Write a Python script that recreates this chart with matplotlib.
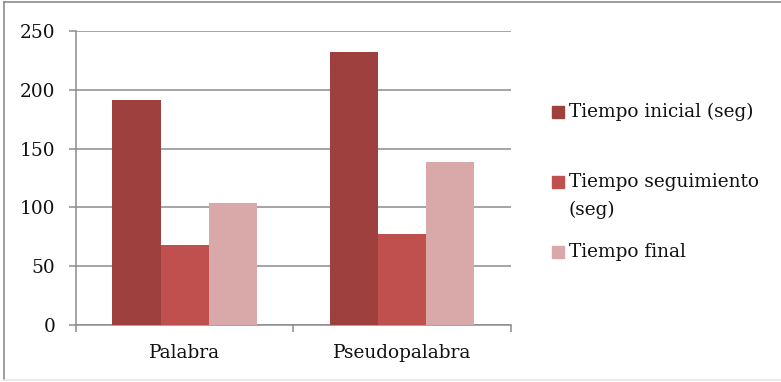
import matplotlib.pyplot as plt
from matplotlib.patches import Rectangle
from matplotlib.lines import Line2D
import numpy as np

categories = ["Palabra", "Pseudopalabra"]
series_names = ["Tiempo inicial (seg)", "Tiempo seguimiento\n(seg)", "Tiempo final"]
tiempo_inicial = [191, 232]
tiempo_seguimiento = [68, 77]
tiempo_final = [104, 139]
series_values = [tiempo_inicial, tiempo_seguimiento, tiempo_final]
colors = ["#9E413E", "#C0504D", "#D9A9A9"]
y_ticks = [0, 50, 100, 150, 200, 250]

W, H = 781, 382
FS = 13.3
plt.rcParams["font.family"] = ["DejaVu Serif"]
fig = plt.figure(figsize=(W / 100, H / 100), dpi=100)
ax = fig.add_axes([76 / W, 1 - 325 / H, (510.7 - 76) / W, (325 - 31) / H])

n = len(series_values)
group = 1 / 1.5
bw = group / n
x = np.arange(len(categories))
for i, (vals, c) in enumerate(zip(series_values, colors)):
    ax.bar(x - group / 2 + bw * (i + 0.5), vals, width=bw, color=c, zorder=3)

ax.set_xlim(-0.5, len(categories) - 0.5)
ax.set_ylim(0, 250)
ax.set_yticks(y_ticks)
ax.set_yticklabels([str(t) for t in y_ticks], fontsize=FS, color="#111111")
ax.yaxis.grid(True, color="#8C8C8C", linewidth=1.1, zorder=0)
ax.tick_params(axis="y", length=5, width=1.1, color="#8C8C8C", pad=10)

ax.set_xticks(np.arange(len(categories) + 1) - 0.5)
ax.set_xticklabels([])
ax.set_xticks(x, minor=True)
ax.set_xticklabels(categories, minor=True, fontsize=FS, color="#111111")
ax.tick_params(axis="x", which="major", length=5, width=1.1, color="#8C8C8C", direction="out")
ax.tick_params(axis="x", which="minor", length=0, pad=14)

for s in ["top", "right"]:
    ax.spines[s].set_visible(False)
for s in ["left", "bottom"]:
    ax.spines[s].set_color("#8C8C8C")
    ax.spines[s].set_linewidth(1.1)

# legend drawn by hand so the swatch sits beside the first text line
leg_y = [111.7, 181.7, 251.7]
line_h = 28.3
for name, c, yc in zip(series_names, colors, leg_y):
    fig.patches.append(Rectangle((552 / W, 1 - (yc + 6) / H), 12 / W, 12 / H,
                                 transform=fig.transFigure, color=c))
    for k, line in enumerate(name.split("\n")):
        fig.text(569 / W, 1 - (yc + k * line_h) / H, line, fontsize=FS,
                 va="center", ha="left", color="#111111")

# outer frame
fig.add_artist(Line2D([3.5 / W, 3.5 / W], [1 - 1.5 / H, 1 - 380 / H], transform=fig.transFigure,
                      color="#8C8C8C", linewidth=1.2))
fig.add_artist(Line2D([3.5 / W, 1], [1 - 1.5 / H, 1 - 1.5 / H], transform=fig.transFigure,
                      color="#8C8C8C", linewidth=1.2))
fig.add_artist(Line2D([3.5 / W, 1], [1 - 380 / H, 1 - 380 / H], transform=fig.transFigure,
                      color="#E6E6E6", linewidth=1.2))

fig.savefig("out.png", dpi=100)
